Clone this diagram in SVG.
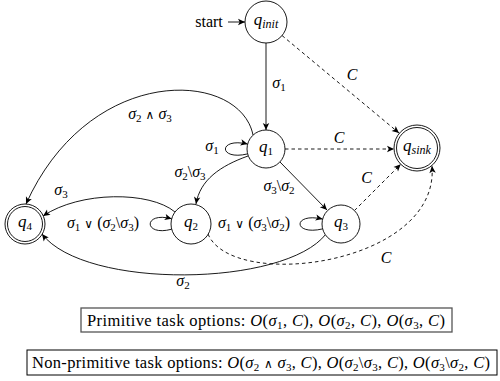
<svg xmlns="http://www.w3.org/2000/svg" width="500" height="381" viewBox="0 0 500 381" font-family="'Liberation Serif', 'Times New Roman', 'DejaVu Serif', serif">
<defs>
<marker id="ah" viewBox="-8 -4 9 8" refX="0" refY="0" markerWidth="9" markerHeight="8" markerUnits="userSpaceOnUse" orient="auto">
<path d="M0,0 L-7,-3.2 L-5.3,0 L-7,3.2 Z" fill="#000"/>
</marker>
<style>
text { font-family: 'Liberation Serif', 'Times New Roman', 'DejaVu Serif', serif; font-size: 15.5px; fill: #000; }
.lbl { font-size: 16px; }
.nl { font-size: 17px; }
.i { font-style: italic; }
.s { font-size: 11px; font-style: normal; }
.si { font-size: 12px; font-style: italic; }
.op { font-family: 'DejaVu Serif', serif; font-size: 12px; }
.bt { font-size: 16.5px; }
.node { fill: #fff; stroke: #000; stroke-width: 0.9; }
.e { fill: none; stroke: #000; stroke-width: 0.9; marker-end: url(#ah); }
.d { stroke-dasharray: 3.5 3; }
.box1 { fill: #fff; stroke: #555; stroke-width: 1.3; }
.box2 { fill: #fff; stroke: #000; stroke-width: 1; }
</style>
</defs>
<rect width="500" height="381" fill="#fff"/>

<g id="edges">
<path class="e" d="M228,22 L245,22"/>
<path class="e" d="M266,43 L266,130"/>
<path class="e d" d="M282,35.5 L399,133"/>
<path class="e d" d="M285,149 L394,149"/>
<path class="e d" d="M354.4,210.6 L400.7,164.3"/>
<path class="e d" d="M208,234 C232,292 440,265 432,166"/>
<path class="e" d="M326,234 C285,287 85,290 42,234"/>
<path class="e" d="M253,135 C240,70 90,62 26,204"/>
<path class="e" d="M175,212 C150,191 80,191 43,216"/>
<path class="e" d="M248,156 C220,166 200,180 196,204"/>
<path class="e" d="M280,162 L327,210"/>
<path class="e" d="M247.6,153.9 C218,161 218,137 247.6,144.1"/>
<path class="e" d="M171.7,229.2 C143,237 143,211 171.7,218.8"/>
<path class="e" d="M322.6,228.9 C292.5,236 292.5,212 322.6,219.1"/>
</g>

<g id="edge-labels">
<text class="lbl" x="209" y="27" text-anchor="middle">start</text>
<text class="lbl" x="279" y="88" text-anchor="middle"><tspan class="i">σ</tspan><tspan class="s" dy="3">1</tspan></text>
<text class="lbl i" x="352" y="80" text-anchor="middle">C</text>
<text class="lbl i" x="339" y="143" text-anchor="middle">C</text>
<text class="lbl i" x="366.5" y="183" text-anchor="middle">C</text>
<text class="lbl i" x="386" y="263" text-anchor="middle">C</text>
<text class="lbl" x="150" y="119" text-anchor="middle"><tspan class="i">σ</tspan><tspan class="s" dy="3">2</tspan><tspan dy="-3"> </tspan><tspan class="op">∧</tspan> <tspan class="i">σ</tspan><tspan class="s" dy="3">3</tspan></text>
<text class="lbl" x="61" y="195" text-anchor="middle"><tspan class="i">σ</tspan><tspan class="s" dy="3">3</tspan></text>
<text class="lbl" x="212" y="151" text-anchor="middle"><tspan class="i">σ</tspan><tspan class="s" dy="3">1</tspan></text>
<text class="lbl" x="190" y="177" text-anchor="middle"><tspan class="i">σ</tspan><tspan class="s" dy="3">2</tspan><tspan dy="-3">\</tspan><tspan class="i">σ</tspan><tspan class="s" dy="3">3</tspan></text>
<text class="lbl" x="279" y="191" text-anchor="middle"><tspan class="i">σ</tspan><tspan class="s" dy="3">3</tspan><tspan dy="-3">\</tspan><tspan class="i">σ</tspan><tspan class="s" dy="3">2</tspan></text>
<text class="lbl" x="103" y="228" text-anchor="middle"><tspan class="i">σ</tspan><tspan class="s" dy="3">1</tspan><tspan dy="-3"> </tspan><tspan class="op">∨</tspan> (<tspan class="i">σ</tspan><tspan class="s" dy="3">2</tspan><tspan dy="-3">\</tspan><tspan class="i">σ</tspan><tspan class="s" dy="3">3</tspan><tspan dy="-3">)</tspan></text>
<text class="lbl" x="254" y="228" text-anchor="middle"><tspan class="i">σ</tspan><tspan class="s" dy="3">1</tspan><tspan dy="-3"> </tspan><tspan class="op">∨</tspan> (<tspan class="i">σ</tspan><tspan class="s" dy="3">3</tspan><tspan dy="-3">\</tspan><tspan class="i">σ</tspan><tspan class="s" dy="3">2</tspan><tspan dy="-3">)</tspan></text>
<text class="lbl" x="183" y="286" text-anchor="middle"><tspan class="i">σ</tspan><tspan class="s" dy="3">2</tspan></text>
</g>

<g id="q_init">
<circle class="node" cx="266" cy="22" r="21"/>
<text class="nl" x="266" y="25" text-anchor="middle"><tspan class="i">q</tspan><tspan class="si" dy="3">init</tspan></text>
</g>
<g id="q_sink">
<circle class="node" cx="417" cy="148" r="23"/>
<circle class="node" cx="417" cy="148" r="20.5"/>
<text class="nl" x="417" y="151" text-anchor="middle"><tspan class="i">q</tspan><tspan class="si" dy="3">sink</tspan></text>
</g>
<g id="q1">
<circle class="node" cx="266" cy="149" r="19"/>
<text class="nl" x="266" y="152" text-anchor="middle"><tspan class="i">q</tspan><tspan class="s" dy="3">1</tspan></text>
</g>
<g id="q2">
<circle class="node" cx="191" cy="224" r="20"/>
<text class="nl" x="191" y="227" text-anchor="middle"><tspan class="i">q</tspan><tspan class="s" dy="3">2</tspan></text>
</g>
<g id="q3">
<circle class="node" cx="341" cy="224" r="19"/>
<text class="nl" x="341" y="227" text-anchor="middle"><tspan class="i">q</tspan><tspan class="s" dy="3">3</tspan></text>
</g>
<g id="q4">
<circle class="node" cx="25" cy="224" r="20"/>
<circle class="node" cx="25" cy="224" r="17.5"/>
<text class="nl" x="25" y="227" text-anchor="middle"><tspan class="i">q</tspan><tspan class="s" dy="3">4</tspan></text>
</g>

<g id="primitive-box">
<rect class="box1" x="81" y="308" width="371" height="24"/>
<text class="bt" x="87" y="325.5" textLength="358" lengthAdjust="spacing">Primitive task options: <tspan class="i">O</tspan>(<tspan class="i">σ</tspan><tspan class="s" dy="3">1</tspan><tspan dy="-3">, </tspan><tspan class="i">C</tspan>), <tspan class="i">O</tspan>(<tspan class="i">σ</tspan><tspan class="s" dy="3">2</tspan><tspan dy="-3">, </tspan><tspan class="i">C</tspan>), <tspan class="i">O</tspan>(<tspan class="i">σ</tspan><tspan class="s" dy="3">3</tspan><tspan dy="-3">, </tspan><tspan class="i">C</tspan>)</text>
</g>
<g id="non-primitive-box">
<rect class="box2" x="27" y="350" width="470" height="25"/>
<text class="bt" x="32" y="367.5" textLength="458" lengthAdjust="spacing">Non-primitive task options: <tspan class="i">O</tspan>(<tspan class="i">σ</tspan><tspan class="s" dy="3">2</tspan><tspan dy="-3"> </tspan><tspan class="op">∧</tspan> <tspan class="i">σ</tspan><tspan class="s" dy="3">3</tspan><tspan dy="-3">, </tspan><tspan class="i">C</tspan>), <tspan class="i">O</tspan>(<tspan class="i">σ</tspan><tspan class="s" dy="3">2</tspan><tspan dy="-3">\</tspan><tspan class="i">σ</tspan><tspan class="s" dy="3">3</tspan><tspan dy="-3">, </tspan><tspan class="i">C</tspan>), <tspan class="i">O</tspan>(<tspan class="i">σ</tspan><tspan class="s" dy="3">3</tspan><tspan dy="-3">\</tspan><tspan class="i">σ</tspan><tspan class="s" dy="3">2</tspan><tspan dy="-3">, </tspan><tspan class="i">C</tspan>)</text>
</g>
</svg>
